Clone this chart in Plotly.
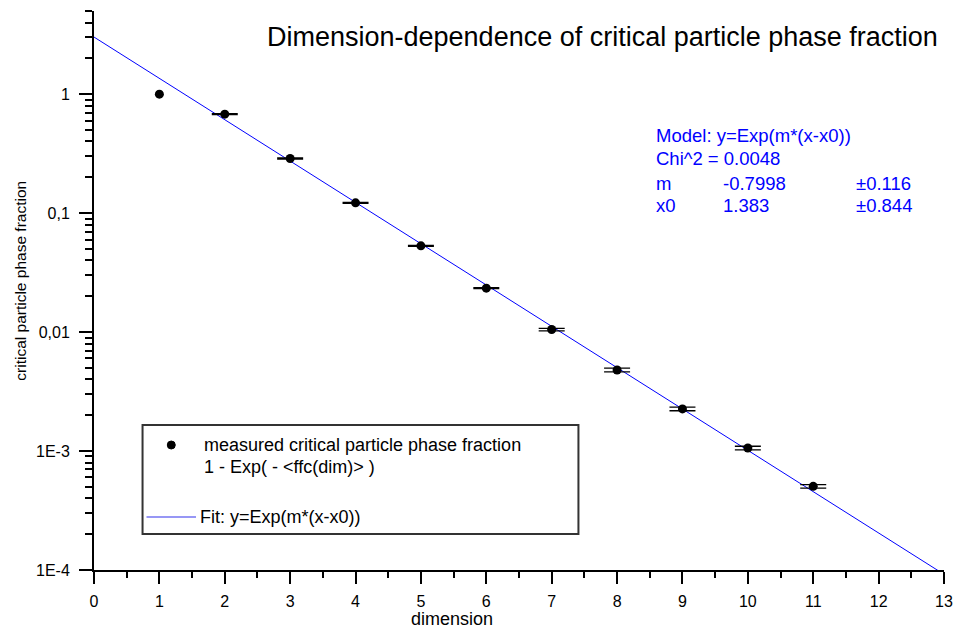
import plotly.graph_objects as go

# ---- data ----
dimension = [1, 2, 3, 4, 5, 6, 7, 8, 9, 10, 11]
fraction = [1.0, 0.679, 0.288, 0.122, 0.0531, 0.0234, 0.0105, 0.0048, 0.00226, 0.00106, 0.000505]
fraction_err = [0.0, 0.007, 0.003, 0.0012, 0.0005, 0.00023, 0.00026, 0.00017, 0.00008, 0.000037, 0.000018]

fit_x = [0, 13]
fit_y = [3.02, 9.2e-5]

y_tickvals = [1e-4, 1e-3, 1e-2, 1e-1, 1]
y_ticktext = ["1E-4", "1E-3", "0,01", "0,1", "1"]

title_text = "Dimension-dependence of critical particle phase fraction"
info_rows = [
    ["Model: y=Exp(m*(x-x0))", "", ""],
    ["Chi^2 = 0.0048", "", ""],
    ["m", "-0.7998", "±0.116"],
    ["x0", "1.383", "±0.844"],
]
legend_labels = ["measured critical particle phase fraction", "1 - Exp( - <ffc(dim)> )",
                 "Fit: y=Exp(m*(x-x0))"]

FONT = "Liberation Sans, Arial, sans-serif"

# plot-area geometry in pixels
L, R, T, B = 94, 12, 11, 60
W, H = 964, 630
PW, PH = W - L - R, H - T - B


def px(x):
    return (x - L) / PW


def py(y):
    return (H - B - y) / PH


fig = go.Figure()

fig.add_trace(go.Scatter(x=fit_x, y=fit_y, mode="lines",
                         line=dict(color="#0000ff", width=1), hoverinfo="skip"))

# error bars (point 1 has none)
fig.add_trace(go.Scatter(x=dimension[1:], y=fraction[1:], mode="markers",
                         marker=dict(size=9, color="black"),
                         error_y=dict(type="data", array=fraction_err[1:], visible=True,
                                      color="black", thickness=1.3, width=13)))
fig.add_trace(go.Scatter(x=dimension[:1], y=fraction[:1], mode="markers",
                         marker=dict(size=9, color="black")))

ann = []
ann.append(dict(text=title_text, x=px(948), y=py(37), xref="paper", yref="paper",
                xanchor="right", yanchor="middle", showarrow=False,
                font=dict(family=FONT, size=27, color="black")))

row_y = [135, 159, 183, 206]
col_x = [659, 727, 861]
for r, row in enumerate(info_rows):
    for c, txt in enumerate(row):
        if txt:
            ann.append(dict(text=txt, x=px(col_x[c]), y=py(row_y[r]), xref="paper", yref="paper",
                            xanchor="left", yanchor="middle", showarrow=False,
                            font=dict(family=FONT, size=18.5, color="#0000ff")))

# legend texts
leg_pos = [(203, 445), (203, 467), (199, 517)]
for (lx, ly), txt in zip(leg_pos, legend_labels):
    ann.append(dict(text=txt.replace("<", "&lt;").replace(">", "&gt;"), x=px(lx), y=py(ly),
                    xref="paper", yref="paper", xanchor="left", yanchor="middle",
                    showarrow=False, font=dict(family=FONT, size=18, color="black")))

# axis titles
ann.append(dict(text="dimension", x=px(455), y=py(619), xref="paper", yref="paper",
                xanchor="center", yanchor="middle", showarrow=False,
                font=dict(family=FONT, size=18, color="black")))
ann.append(dict(text="critical particle phase fraction", x=px(19), y=py(281), xref="paper",
                yref="paper", xanchor="center", yanchor="middle", showarrow=False, textangle=-90,
                font=dict(family=FONT, size=15.5, color="black")))

shapes = [
    dict(type="rect", xref="paper", yref="paper", x0=px(143), x1=px(583), y0=py(425), y1=py(534),
         line=dict(color="#333333", width=2), fillcolor="rgba(0,0,0,0)"),
    dict(type="line", xref="paper", yref="paper", x0=px(147), x1=px(197), y0=py(517), y1=py(517),
         line=dict(color="#7474f2", width=1.5)),
    dict(type="circle", xref="paper", yref="paper", xsizemode="pixel", ysizemode="pixel",
         xanchor=px(172), yanchor=py(445), x0=-4, x1=4, y0=-4, y1=4,
         fillcolor="black", line=dict(color="black", width=1)),
]

fig.update_layout(
    width=W, height=H,
    margin=dict(l=L, r=R, t=T, b=B, pad=0),
    paper_bgcolor="white", plot_bgcolor="white",
    showlegend=False,
    annotations=ann, shapes=shapes,
    font=dict(family=FONT, size=16, color="black"),
    xaxis=dict(range=[0, 13], tick0=0, dtick=1, showgrid=False, zeroline=False,
               showline=True, linecolor="black", linewidth=2,
               ticks="outside", ticklen=12, tickwidth=2, tickcolor="black",
               tickfont=dict(family=FONT, size=16, color="black"), ticklabelstandoff=4,
               minor=dict(dtick=0.5, ticks="outside", ticklen=6, tickwidth=2,
                          tickcolor="black", showgrid=False)),
    yaxis=dict(type="log", range=[-4, 0.69897], tickmode="array", tickvals=y_tickvals,
               ticktext=y_ticktext, showgrid=False, zeroline=False,
               showline=True, linecolor="black", linewidth=2,
               ticks="outside", ticklen=13, tickwidth=2, tickcolor="black",
               tickfont=dict(family=FONT, size=16, color="black"), ticklabelstandoff=6,
               minor=dict(dtick="D1", ticks="outside", ticklen=7, tickwidth=2,
                          tickcolor="black", showgrid=False)),
)

fig.write_html("out.html")
